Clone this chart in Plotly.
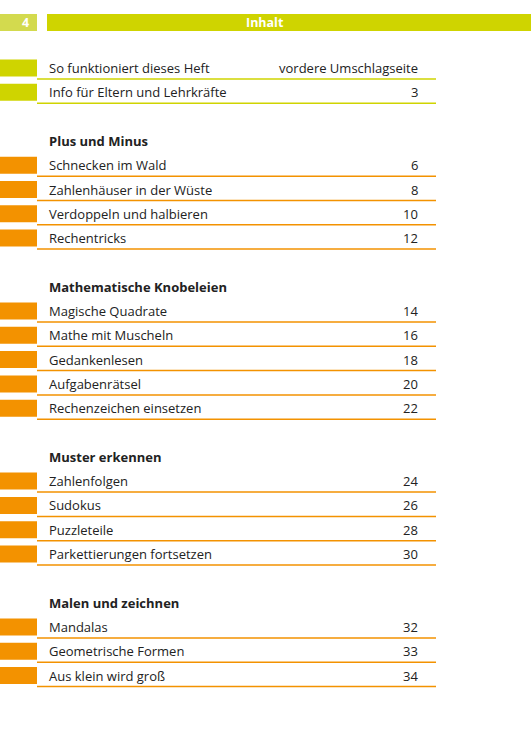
import plotly.graph_objects as go

# Table of contents data
PAGE_NO = "4"
TITLE = "Inhalt"

INTRO_ITEMS = ["So funktioniert dieses Heft", "Info für Eltern und Lehrkräfte"]
INTRO_PAGES = ["vordere Umschlagseite", "3"]

SECTIONS = ["Plus und Minus", "Mathematische Knobeleien", "Muster erkennen", "Malen und zeichnen"]
SECTION_ITEMS = [
    ["Schnecken im Wald", "Zahlenhäuser in der Wüste", "Verdoppeln und halbieren", "Rechentricks"],
    ["Magische Quadrate", "Mathe mit Muscheln", "Gedankenlesen", "Aufgabenrätsel", "Rechenzeichen einsetzen"],
    ["Zahlenfolgen", "Sudokus", "Puzzleteile", "Parkettierungen fortsetzen"],
    ["Mandalas", "Geometrische Formen", "Aus klein wird groß"],
]
SECTION_PAGES = [
    ["6", "8", "10", "12"],
    ["14", "16", "18", "20", "22"],
    ["24", "26", "28", "30"],
    ["32", "33", "34"],
]

GREEN = "#cfd400"
GREEN_LIGHT = "#d3da4e"
ORANGE = "#f39200"
FONT = "Open Sans, Noto Sans, sans-serif"
PITCH = 24.3

fig = go.Figure()
shapes, annos = [], []

# header
shapes.append(dict(type="rect", x0=0, x1=37, y0=14, y1=31, fillcolor=GREEN_LIGHT, line_width=0))
shapes.append(dict(type="rect", x0=47, x1=531, y0=14, y1=31, fillcolor=GREEN, line_width=0))
annos.append(dict(x=25, y=22.5, text=f"<b>{PAGE_NO}</b>", font=dict(color="white", size=12.5)))
annos.append(dict(x=265, y=22.5, text=f"<b>{TITLE}</b>", font=dict(color="white", size=12.5)))


def add_row(y, label, page, color):
    shapes.append(dict(type="rect", x0=0, x1=37, y0=y - 8.5, y1=y + 8.5, fillcolor=color, line_width=0))
    shapes.append(dict(type="line", x0=37, x1=436, y0=y + 11, y1=y + 11, line=dict(color=color, width=1.5)))
    annos.append(dict(x=47, y=y, text=label, xanchor="left", font=dict(color="#222", size=13)))
    annos.append(dict(x=420, y=y, text=page, xanchor="right", font=dict(color="#222", size=13)))


y = 68
for lab, pg in zip(INTRO_ITEMS, INTRO_PAGES):
    add_row(y, lab, pg, GREEN)
    y += PITCH

y += PITCH
for sec, items, pages in zip(SECTIONS, SECTION_ITEMS, SECTION_PAGES):
    annos.append(dict(x=47, y=y, text=f"<b>{sec}</b>", xanchor="left", font=dict(color="#222", size=13)))
    y += PITCH
    for lab, pg in zip(items, pages):
        add_row(y, lab, pg, ORANGE)
        y += PITCH
    y += PITCH

for a in annos:
    a.update(showarrow=False, xref="x", yref="y", yanchor="middle")
    a.setdefault("xanchor", "center")
for s in shapes:
    s.update(xref="x", yref="y", layer="below")

fig.update_layout(
    width=531, height=750,
    margin=dict(l=0, r=0, t=0, b=0),
    paper_bgcolor="white", plot_bgcolor="white",
    font=dict(family=FONT),
    shapes=shapes, annotations=annos,
    xaxis=dict(range=[0, 531], visible=False, fixedrange=True),
    yaxis=dict(range=[750, 0], visible=False, fixedrange=True),
    showlegend=False,
)

fig.write_html("out.html", config={"displayModeBar": False},
               post_script="document.body.style.margin='0';document.body.style.overflow='hidden';")
